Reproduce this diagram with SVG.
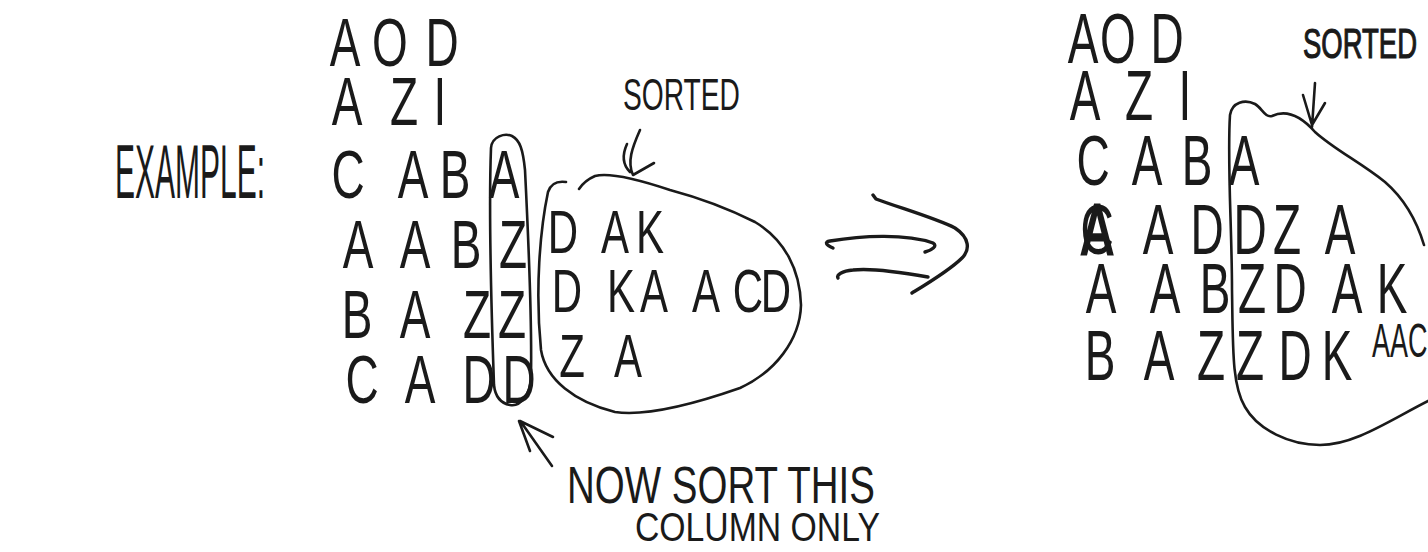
<svg xmlns="http://www.w3.org/2000/svg" width="1428" height="552" viewBox="0 0 1428 552">
<style>
.h{font-family:"Liberation Sans",Arial,sans-serif;font-size:46px;fill:#1a1a1a;text-anchor:middle}
.s{font-family:"Liberation Sans",Arial,sans-serif;fill:#1a1a1a}
.ink{fill:none;stroke:#1a1a1a;stroke-width:2.6;stroke-linecap:round;stroke-linejoin:round}
.thick{stroke-width:3.4}
</style>
<rect width="1428" height="552" fill="#ffffff"/>

<g id="example-label">
<text class="s" x="115" y="0" font-size="42" textLength="150" lengthAdjust="spacingAndGlyphs" transform="matrix(1 0 0 1.8 0 198)">EXAMPLE:</text>
</g>

<g id="left-table">
<text class="h" x="345 390 442" y="0" transform="matrix(1 0 0 1.5 0 66)">AOD</text>
<text class="h" x="347 404 440" y="0" transform="matrix(1 0 0 1.5 0 125)">AZI</text>
<text class="h" x="348 413 455 504" y="0" transform="matrix(1 0 0 1.5 0 198)">CABA</text>
<text class="h" x="358 415 466 513" y="0" transform="matrix(1 0 0 1.5 0 268)">AABZ</text>
<text class="h" x="357 415 477 512" y="0" transform="matrix(1 0 0 1.5 0 338)">BAZZ</text>
<text class="h" x="362 420 479 519" y="0" transform="matrix(1 0 0 1.5 0 403)">CADD</text>
<text class="h" style="font-size:42px" x="563 615 650" y="0" transform="matrix(1 0 0 1.45 0 253)">DAK</text>
<text class="h" style="font-size:42px" x="567 621 654 706 748 776" y="0" transform="matrix(1 0 0 1.45 0 312)">DKAACD</text>
<text class="h" style="font-size:42px" x="572 628" y="0" transform="matrix(1 0 0 1.45 0 377)">ZA</text>
</g>

<g id="left-sorted-label">
<text class="s" x="623" y="0" font-size="28" textLength="117" lengthAdjust="spacingAndGlyphs" transform="matrix(1 0 0 1.6 0 110)">SORTED</text>
</g>

<g id="note-label">
<text class="s" x="567" y="0" font-size="34" textLength="308" lengthAdjust="spacingAndGlyphs" transform="matrix(1 0 0 1.55 0 503)">NOW SORT THIS</text>
<text class="s" x="635" y="0" font-size="30" textLength="245" lengthAdjust="spacingAndGlyphs" transform="matrix(1 0 0 1.35 0 541)">COLUMN ONLY</text>
</g>

<g id="right-table">
<text class="h" x="1083 1118 1167" y="0" transform="matrix(1 0 0 1.55 0 63)">AOD</text>
<text class="h" x="1085 1139 1185" y="0" transform="matrix(1 0 0 1.55 0 120)">AZI</text>
<text class="h" x="1093 1147 1197 1244" y="0" transform="matrix(1 0 0 1.55 0 185)">CABA</text>
<text class="h" x="1097 1158 1207 1250 1287 1340" y="0" transform="matrix(1 0 0 1.55 0 254)">CADDZA</text>
<text class="h" x="1097" y="0" style="stroke:#1a1a1a;stroke-width:2" transform="matrix(1 0 0 1.55 0 254)">A</text>
<text class="h" x="1101 1165 1215 1252 1290 1347 1392" y="0" transform="matrix(1 0 0 1.55 0 313)">AABZDAK</text>
<text class="h" x="1100 1159 1211 1250 1295 1337" y="0" transform="matrix(1 0 0 1.55 0 380)">BAZZDK</text>
<text class="s" x="1372" y="0" font-size="27" transform="matrix(1 0 0 1.75 0 357)">AAC</text>
</g>

<g id="right-sorted-label">
<text class="s" x="1303" y="0" font-size="28" textLength="114" lengthAdjust="spacingAndGlyphs" style="stroke:#1a1a1a;stroke-width:0.8" transform="matrix(1 0 0 1.5 0 58)">SORTED</text>
</g>

<g id="connectors">
<!-- column loop -->
<path class="ink" d="M 494 385 C 491 300, 489 200, 491 148 C 492 136, 505 133, 512 136 C 520 140, 523 150, 525 170 C 528 230, 532 320, 531 375 C 531 395, 520 407, 510 405 C 500 403, 495 395, 494 385 Z"/>
<!-- left sorted blob -->
<path class="ink" d="M 566 182 Q 552 180 548 192 C 540 230, 535 290, 541 350 C 546 380, 575 402, 615 412 C 650 417, 700 402, 740 388 C 775 372, 800 340, 801 305 C 800 270, 785 240, 755 222 C 725 207, 700 198, 670 190 C 640 180, 610 172, 595 176 C 588 179, 583 183, 579 189"/>
<!-- left sorted arrow -->
<path class="ink" d="M 640 130 C 632 148, 627 162, 633 175 L 654 163 M 627 144 C 622 155, 623 165, 630 172"/>
<!-- big implies arrow -->
<path class="ink thick" d="M 833 248 C 826 245, 824 242, 830 241 C 860 236, 905 233, 933 243 C 938 246, 932 250, 925 252"/>
<path class="ink thick" d="M 838 278 C 836 275, 842 271, 853 270 C 870 268, 900 272, 928 277"/>
<path class="ink thick" d="M 873 195 L 876 199 C 900 208, 935 218, 955 228 C 970 238, 970 250, 962 258 C 950 270, 930 282, 912 293"/>
<!-- note arrow -->
<path class="ink" d="M 552 466 L 521 422 M 519 421 L 530 451 M 520 421 L 553 437"/>
<!-- right sorted blob -->
<path class="ink" d="M 1424 245 C 1415 215, 1400 195, 1385 182 C 1360 162, 1335 150, 1315 132 C 1300 115, 1285 110, 1272 116 C 1265 118, 1262 108, 1255 104 C 1245 99, 1232 102, 1230 115 C 1227 160, 1232 230, 1232 290 C 1233 350, 1232 385, 1245 407 C 1258 430, 1290 445, 1320 445 C 1355 445, 1390 420, 1430 400"/>
<!-- right sorted arrow -->
<path class="ink" d="M 1315 83 L 1312 127 M 1303 95 L 1312 125 L 1325 103"/>
</g>
</svg>
